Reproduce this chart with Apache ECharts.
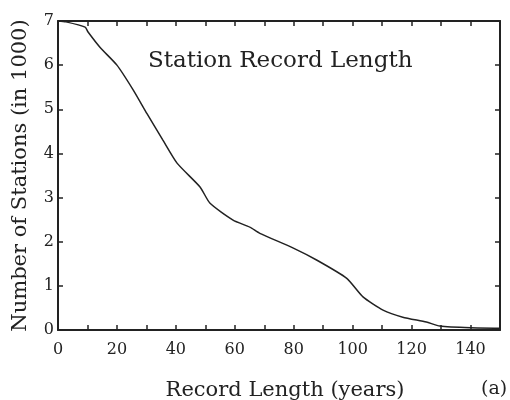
<!DOCTYPE html>
<html><head><meta charset="utf-8">
<script src="https://cdn.jsdelivr.net/npm/echarts@6/dist/echarts.min.js"></script>
<style>html,body{margin:0;padding:0;background:#fff}#c{width:510px;height:400px}</style>
</head><body><div id="c"></div>
<script>
const recordYears = [0, 2.7, 9.2, 10.2, 14.3, 20, 25.5, 30.2, 35.6, 40.4, 48.2, 51.6, 59.4, 65.1, 68.5, 79.7, 87.9, 98, 103.5, 110.3, 117, 125, 129.6, 140, 150];
const stations = [7.0, 6.98, 6.86, 6.75, 6.4, 6.0, 5.44, 4.9, 4.3, 3.78, 3.24, 2.87, 2.49, 2.33, 2.19, 1.86, 1.58, 1.17, 0.75, 0.45, 0.29, 0.18, 0.09, 0.05, 0.04];
const titleText = 'Station Record Length';
const xName = 'Record Length (years)';
const yName = 'Number of Stations (in 1000)';

const font = 'DejaVu Serif';
const chart = echarts.init(document.getElementById('c'), null, {renderer: 'canvas'});
function axisCommon() {
  return {
    axisLine: {show: true, onZero: false, lineStyle: {color: '#222', width: 2}},
    axisTick: {show: true, inside: true, length: 5, lineStyle: {color: '#222', width: 1.5}},
    splitLine: {show: false}
  };
}
const minor = {show: true, splitNumber: 2, length: 5, lineStyle: {color: '#222', width: 1.5}};
chart.setOption({
  backgroundColor: '#fff',
  animation: false,
  grid: {left: 58, right: 10, top: 21, bottom: 70, outerBoundsMode: 'none', containLabel: false},
  title: [
    {text: titleText, left: 143, top: 45, textStyle: {fontFamily: font, fontWeight: 'normal', fontSize: 23, color: '#222'}},
    {text: xName, left: 280, top: 375, textAlign: 'center', textStyle: {fontFamily: font, fontWeight: 'normal', fontSize: 21, color: '#222'}},
    {text: '(a)', left: 476, top: 375, textStyle: {fontFamily: font, fontWeight: 'normal', fontSize: 19, color: '#222'}}
  ],
  xAxis: [
    Object.assign(axisCommon(), {type: 'value', min: 0, max: 150, interval: 20, position: 'bottom',
      minorTick: minor,
      axisLabel: {fontFamily: font, fontSize: 16, color: '#222', margin: 12}}),
    Object.assign(axisCommon(), {type: 'value', min: 0, max: 150, interval: 20, position: 'top',
      minorTick: minor, axisLabel: {show: false}})
  ],
  yAxis: [
    Object.assign(axisCommon(), {type: 'value', min: 0, max: 7, interval: 1, position: 'left',
      name: yName, nameLocation: 'middle', nameGap: 27, nameRotate: 90,
      nameTextStyle: {fontFamily: font, fontSize: 21, color: '#222'},
      axisLabel: {fontFamily: font, fontSize: 16, color: '#222', margin: 4}}),
    Object.assign(axisCommon(), {type: 'value', min: 0, max: 7, interval: 1, position: 'right',
      axisLabel: {show: false}})
  ],
  series: [{
    type: 'line', xAxisIndex: 0, yAxisIndex: 0, showSymbol: false, smooth: 0.2,
    lineStyle: {color: '#222', width: 1.5},
    data: recordYears.map((x, i) => [x, stations[i]])
  }]
});
</script></body></html>
